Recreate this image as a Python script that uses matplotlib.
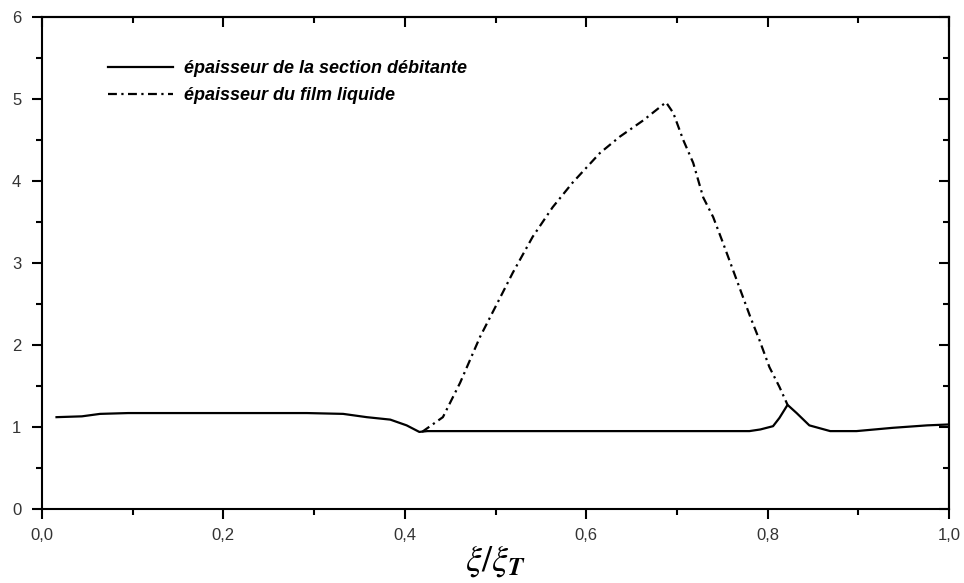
import numpy as np
import matplotlib.pyplot as plt
from matplotlib.ticker import MultipleLocator, FuncFormatter

# courbe pleine : épaisseur de la section débitante
x_sec = [0.016, 0.044, 0.064, 0.095, 0.20, 0.292, 0.332, 0.358, 0.384, 0.402, 0.416, 0.425,
         0.50, 0.60, 0.70, 0.78, 0.792, 0.806, 0.813, 0.822, 0.832, 0.846, 0.869, 0.898,
         0.938, 0.976, 0.998]
y_sec = [1.12, 1.13, 1.16, 1.17, 1.17, 1.17, 1.16, 1.12, 1.09, 1.02, 0.94, 0.95,
         0.95, 0.95, 0.95, 0.95, 0.97, 1.01, 1.11, 1.27, 1.17, 1.02, 0.95, 0.95,
         0.99, 1.02, 1.03]

# courbe mixte : épaisseur du film liquide
x_film = [0.419, 0.442, 0.461, 0.483, 0.502, 0.519, 0.541, 0.563, 0.585, 0.615, 0.637,
          0.663, 0.688, 0.696, 0.707, 0.718, 0.729, 0.740, 0.751, 0.770, 0.781, 0.791,
          0.802, 0.813, 0.822]
y_film = [0.94, 1.12, 1.54, 2.10, 2.51, 2.88, 3.32, 3.68, 3.98, 4.34, 4.54,
          4.74, 4.96, 4.83, 4.50, 4.22, 3.80, 3.56, 3.24, 2.67, 2.34, 2.06,
          1.73, 1.49, 1.27]

labels = ['épaisseur de la section débitante', 'épaisseur du film liquide']

plt.rcParams['font.family'] = 'Liberation Sans'
plt.rcParams['mathtext.fontset'] = 'stix'
fig = plt.figure(figsize=(9.64, 5.83), dpi=100)
ax = fig.add_axes([42/964, 74/583, 907/964, 492/583])

ax.plot(x_sec, y_sec, color='black', lw=1.6, label=labels[0])
ax.plot(x_film, y_film, color='black', lw=1.6, linestyle=(0, (4, 2, 1, 2)), label=labels[1])

ax.set_xlim(0, 1.0)
ax.set_ylim(0, 6)
ax.xaxis.set_major_locator(MultipleLocator(0.2))
ax.xaxis.set_minor_locator(MultipleLocator(0.1))
ax.yaxis.set_major_locator(MultipleLocator(1))
ax.yaxis.set_minor_locator(MultipleLocator(0.5))
ax.xaxis.set_major_formatter(FuncFormatter(lambda v, p: f'{v:.1f}'.replace('.', ',')))
ax.yaxis.set_major_formatter(FuncFormatter(lambda v, p: f'{v:.0f}'))

for s in ax.spines.values():
    s.set_linewidth(1.5)

ax.tick_params(which='both', width=1.5, labelsize=12, labelcolor='#333333')
ax.tick_params(axis='x', which='major', direction='out', length=7, pad=7)
ax.tick_params(axis='x', which='minor', direction='out', length=4)
ax.tick_params(axis='y', which='major', direction='out', length=7, pad=8)
ax.tick_params(axis='y', which='minor', direction='out', length=4)

# ticks miroirs vers l'intérieur (haut et droite)
top = ax.secondary_xaxis('top')
top.xaxis.set_major_locator(MultipleLocator(0.2))
top.xaxis.set_minor_locator(MultipleLocator(0.1))
top.tick_params(which='both', direction='in', width=1.5, labeltop=False)
top.tick_params(which='major', length=7)
top.tick_params(which='minor', length=4)
top.spines['top'].set_linewidth(1.5)
right = ax.secondary_yaxis('right')
right.yaxis.set_major_locator(MultipleLocator(1))
right.yaxis.set_minor_locator(MultipleLocator(0.5))
right.tick_params(which='both', direction='in', width=1.5, labelright=False)
right.tick_params(which='major', length=7)
right.tick_params(which='minor', length=4)
right.spines['right'].set_linewidth(1.5)

ax.set_xlabel(r'$\xi/\xi_{\boldsymbol{T}}$', fontsize=26, labelpad=0)

leg = ax.legend(loc='upper left', bbox_to_anchor=(0.055, 0.945), frameon=False,
                handlelength=3.6, handletextpad=0.6, labelspacing=0.55,
                prop={'size': 13, 'weight': 'bold', 'style': 'italic'})

fig.savefig('out.png', dpi=100)
